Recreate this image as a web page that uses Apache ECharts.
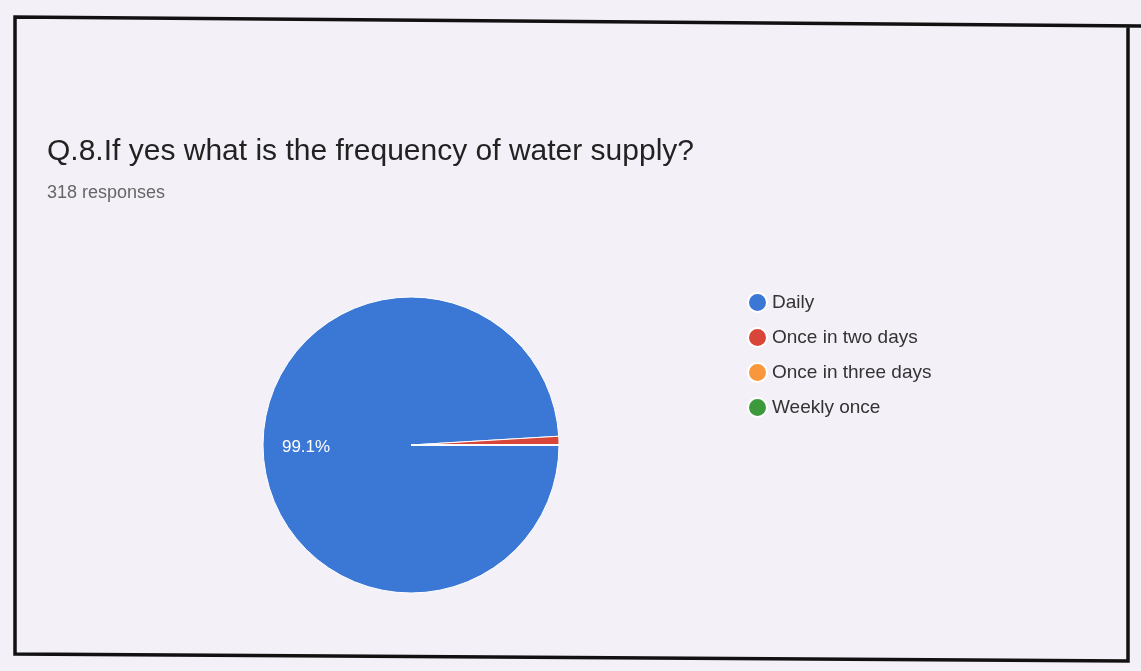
<!DOCTYPE html>
<html>
<head>
<meta charset="utf-8">
<script src="https://cdn.jsdelivr.net/npm/echarts@6/dist/echarts.min.js"></script>
<style>
  html, body { margin: 0; padding: 0; background: #f3f0f8; }
  #chart { width: 1141px; height: 671px; }
</style>
</head>
<body>
<div id="chart"></div>
<script>
// answers and response counts (318 responses in total)
const categories = ['Daily', 'Once in two days', 'Once in three days', 'Weekly once']
const counts = [315, 3, 0, 0]
const colors = ['#3b78d6', '#d8463a', '#f8973b', '#3c9a3c']

const myChart = echarts.init(document.getElementById('chart'))

const option = {
  backgroundColor: '#f3f0f8',
  title: {
    text: 'Q.8.If yes what is the frequency of water supply?',
    subtext: '318 responses',
    left: 42,
    top: 132,
    itemGap: 17,
    textStyle: {
      fontFamily: 'Liberation Sans, Arial, sans-serif',
      fontSize: 30,
      fontWeight: 'normal',
      color: '#222'
    },
    subtextStyle: {
      fontFamily: 'Liberation Sans, Arial, sans-serif',
      fontSize: 18,
      color: '#666'
    }
  },
  legend: {
    orient: 'vertical',
    left: 742,
    top: 287,
    icon: 'circle',
    itemWidth: 19,
    itemHeight: 19,
    itemGap: 14,
    data: categories,
    textStyle: {
      fontFamily: 'Liberation Sans, Arial, sans-serif',
      fontSize: 19,
      color: '#333'
    }
  },
  graphic: [
    {
      type: 'polyline',
      shape: { points: [[1141, 26], [15, 17], [15, 654], [1128, 661], [1128, 26]] },
      style: { stroke: '#111', lineWidth: 3.5, fill: null }
    }
  ],
  series: [
    {
      type: 'pie',
      center: [411, 445],
      radius: 148,
      startAngle: 0,
      clockwise: true,
      avoidLabelOverlap: false,
      itemStyle: { borderColor: '#ffffff', borderWidth: 1 },
      label: {
        show: true,
        position: 'inside',
        formatter: p => p.percent >= 5 ? p.percent.toFixed(1) + '%' : '',
        color: '#ffffff',
        fontFamily: 'Liberation Sans, Arial, sans-serif',
        fontSize: 17,
        offset: [-28, 0]
      },
      labelLine: { show: false },
      emphasis: { disabled: true },
      data: categories.map((name, i) => ({
        name: name,
        value: counts[i],
        itemStyle: { color: colors[i] }
      }))
    }
  ]
}

myChart.setOption(option)
</script>
</body>
</html>
